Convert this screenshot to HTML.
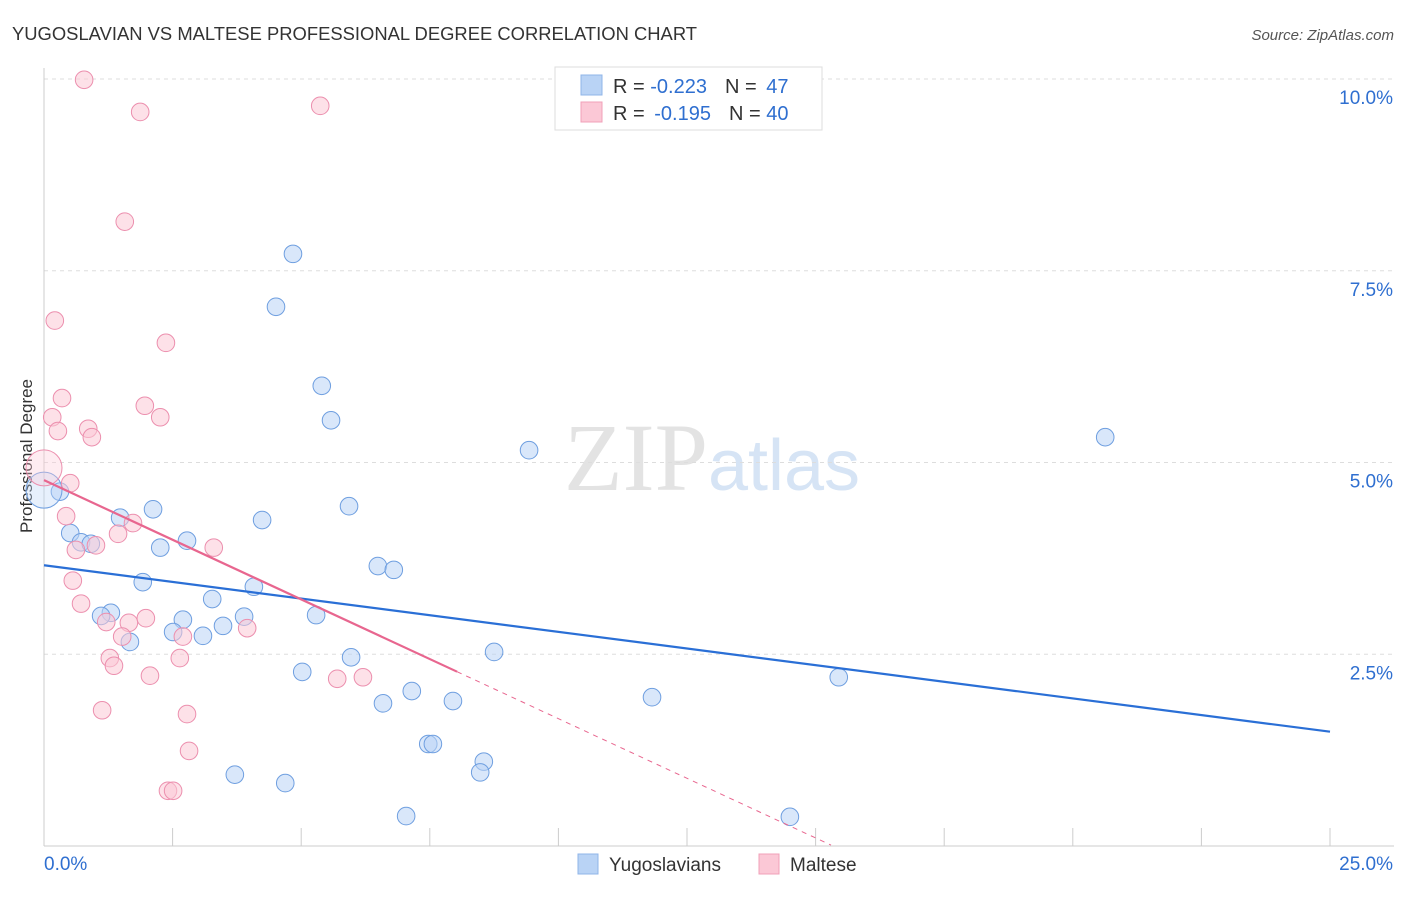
<!DOCTYPE html>
<html><head><meta charset="utf-8"><style>
body{margin:0;background:#fff;font-family:"Liberation Sans",sans-serif;}
svg text{font-family:"Liberation Sans",sans-serif;}
</style></head><body>
<svg id="c" width="1406" height="892" xmlns="http://www.w3.org/2000/svg">
<text x="12" y="40" font-size="18.4" fill="#333" textLength="685">YUGOSLAVIAN VS MALTESE PROFESSIONAL DEGREE CORRELATION CHART</text>
<text x="1394" y="40" font-size="15" fill="#555" text-anchor="end" font-style="italic">Source: ZipAtlas.com</text>
<text x="32" y="456" font-size="17" fill="#333" text-anchor="middle" transform="rotate(-90 32 456)">Professional Degree</text>
<text x="712" y="490" font-size="96" fill="#e3e3e3" text-anchor="middle" font-family="Liberation Serif"><tspan font-family="Liberation Serif">ZIP</tspan><tspan fill="#d6e4f5" font-size="72" font-family="Liberation Sans">atlas</tspan></text>
<g id="grid"></g><g id="axes"></g><g id="pts"></g><g id="lines"></g>
<g>
<rect x="555" y="67" width="267" height="63" fill="#fff" stroke="#ddd"/>
<rect x="581" y="75" width="21" height="20" fill="#b9d3f5" stroke="#8fb5e8"/>
<rect x="581" y="102" width="21" height="20" fill="#fbc8d6" stroke="#f0a0b8"/>
<text x="613" y="93" font-size="20" fill="#333">R = <tspan fill="#2f6fd0">-0.223</tspan><tspan dx="18">N = </tspan><tspan fill="#2f6fd0" dx="4">47</tspan></text>
<text x="613" y="120" font-size="20" fill="#333">R = <tspan fill="#2f6fd0" dx="4">-0.195</tspan><tspan dx="18">N = </tspan><tspan fill="#2f6fd0">40</tspan></text>
</g>
<g>
<rect x="578" y="854" width="20" height="20" fill="#b9d3f5" stroke="#8fb5e8"/>
<text x="609" y="871" font-size="19" fill="#333">Yugoslavians</text>
<rect x="759" y="854" width="20" height="20" fill="#fbc8d6" stroke="#f0a0b8"/>
<text x="790" y="871" font-size="19" fill="#333">Maltese</text>
</g>
</svg>
<script>
const blueX=[4.84,4.51,5.40,5.58,9.43,20.63,5.93,4.24,2.12,1.48,0.51,0.72,0.91,2.26,2.78,6.49,6.80,1.92,4.08,3.27,1.30,1.11,2.70,3.89,5.29,3.48,2.51,3.09,1.67,5.97,8.75,5.02,15.45,7.15,6.59,7.95,11.82,7.47,7.56,8.55,8.48,3.71,4.69,7.04,14.50,0.31,0];
const blueY=[7.72,7.03,6.00,5.55,5.16,5.33,4.43,4.25,4.39,4.28,4.08,3.96,3.94,3.89,3.98,3.65,3.60,3.44,3.38,3.22,3.04,3.00,2.95,2.99,3.01,2.87,2.79,2.74,2.66,2.46,2.53,2.27,2.20,2.02,1.86,1.89,1.94,1.33,1.33,1.10,0.96,0.93,0.82,0.39,0.38,4.62,4.64];
const pinkX=[0.78,1.87,5.37,1.57,0.21,2.37,0.35,1.96,0.16,2.26,0.27,0.86,0.93,0,0.51,0.43,1.73,1.44,0.62,1.01,3.30,0.56,0.72,1.21,1.65,1.98,1.52,2.70,3.95,1.28,1.36,2.64,2.06,5.70,6.20,1.13,2.78,2.82,2.41,2.51];
const pinkY=[9.99,9.57,9.65,8.14,6.85,6.56,5.84,5.74,5.59,5.59,5.41,5.44,5.33,4.93,4.73,4.30,4.21,4.07,3.86,3.92,3.89,3.46,3.16,2.92,2.91,2.97,2.73,2.73,2.84,2.45,2.35,2.45,2.22,2.18,2.20,1.77,1.72,1.24,0.72,0.72];
const yTicks=[2.5,5.0,7.5,10.0];
const xTickVals=[0,2.5,5,7.5,10,12.5,15,17.5,20,22.5,25];
const blueTrend=[3.66,1.49];
const pinkTrend=[4.77,-0.311,8.03,15.3];
const X=v=>44+v/25*1286, Y=v=>846-v/10*767;
const NS="http://www.w3.org/2000/svg";
function mk(p,t,a){const e=document.createElementNS(NS,t);for(const k in a)e.setAttribute(k,a[k]);document.getElementById(p).appendChild(e);return e;}
yTicks.forEach(t=>{
 const l=mk('grid','line',{x1:44,x2:1394,y1:Y(t),y2:Y(t),stroke:'#ddd','stroke-dasharray':'4 4'});
 
 
 const tx=mk('grid','text',{x:1393,y:Y(t)+25,'font-size':19,fill:'#2f6fd0','text-anchor':'end'});
 tx.textContent=t.toFixed(1)+'%';
 
 
});
const ax=mk('axes','line',{x1:44,x2:44,y1:68,y2:846,stroke:'#ccc'});


const bx=mk('axes','line',{x1:44,x2:1394,y1:846,y2:846,stroke:'#ccc'});


xTickVals.forEach(t=>{
 const l=mk('axes','line',{x1:X(t),x2:X(t),y1:828,y2:846,stroke:'#ccc'});
 
 
});
[[0,'0.0%',44,'start'],[25,'25.0%',1393,'end']].forEach(d=>{
 const tx=mk('axes','text',{x:d[2],y:870,'font-size':19,fill:'#2f6fd0','text-anchor':d[3]});
 tx.textContent=d[1];
 
 
});
function pts(xs,ys,fill,stroke,name){xs.forEach((x,i)=>{
 const big=(x===0);
 const c=mk('pts','circle',{cx:X(x),cy:Y(ys[i]),r:big?18:8.8,fill:fill,'fill-opacity':big?0.35:0.55,stroke:stroke,'stroke-width':1});
 
 
});}
pts(blueX,blueY,'#b9d3f5','#6f9fe0','yugoslavian-point');
pts(pinkX,pinkY,'#fbc8d6','#ec8fae','maltese-point');
const bl=mk('lines','line',{x1:X(0),y1:Y(blueTrend[0]),x2:X(25),y2:Y(blueTrend[1]),stroke:'#2a6fd6','stroke-width':2.2});


const pe=pinkTrend[0]+pinkTrend[1]*pinkTrend[2];
const pl=mk('lines','line',{x1:X(0),y1:Y(pinkTrend[0]),x2:X(pinkTrend[2]),y2:Y(pe),stroke:'#e8668f','stroke-width':2.2});


const pd=mk('lines','line',{x1:X(pinkTrend[2]),y1:Y(pe),x2:X(pinkTrend[3]),y2:Y(Math.max(0,pinkTrend[0]+pinkTrend[1]*pinkTrend[3])),stroke:'#e8668f','stroke-width':1,'stroke-dasharray':'5 5'});


</script>
</body></html>
